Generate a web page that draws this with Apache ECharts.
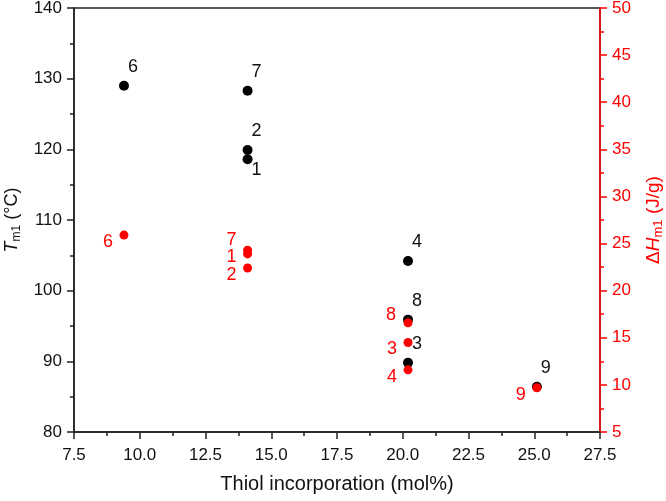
<!DOCTYPE html>
<html>
<head>
<meta charset="utf-8">
<script src="https://cdn.jsdelivr.net/npm/echarts@6/dist/echarts.min.js"></script>
<style>
  html, body { margin: 0; padding: 0; background: #fff; }
  #chart { width: 666px; height: 501px; }
</style>
</head>
<body>
<div id="chart"></div>
<script>
// sample ids, thiol incorporation (mol%), Tm1 (°C), ΔHm1 (J/g)
const samples = ['1', '2', '3', '4', '6', '7', '8', '9']
const thiol = [14.1, 14.1, 20.2, 20.2, 9.4, 14.1, 20.2, 25.1]
const tm1 = [118.6, 119.9, 89.8, 104.2, 129.0, 128.3, 95.9, 86.4]
const dh1 = [23.9, 22.4, 14.5, 11.6, 25.9, 24.3, 16.6, 9.7]

const FONT = '"Liberation Sans", Arial, sans-serif'
const RED = '#ff0000'
const INK = '#111'

// label offsets (px) so numbers sit next to the dots like the original
const blackOffset = (id) => (id === '1' ? [9, 11] : [9, -19])
const redOffset = (id) => {
  if (id === '7') return [-16, -10]
  if (id === '8') return [-17, -8]
  if (id === '1') return [-16, 3]
  return [-16, 7]
}

const chart = echarts.init(document.getElementById('chart'), null, { renderer: 'canvas' })

const tickLabel = { fontFamily: FONT, fontSize: 17, color: INK }

chart.setOption({
  animation: false,
  grid: {
    left: 74, right: 66, top: 8, bottom: 69,
    outerBoundsMode: 'none', containLabel: false,
    show: true, borderColor: '#222', borderWidth: 1.5, backgroundColor: 'transparent',
  },
  xAxis: {
    type: 'value',
    min: 7.5, max: 27.5, interval: 2.5,
    name: 'Thiol incorporation (mol%)',
    nameLocation: 'middle', nameGap: 42,
    nameTextStyle: { fontFamily: FONT, fontSize: 20, color: INK },
    axisLine: { lineStyle: { color: '#222', width: 1.5 } },
    axisTick: { inside: false, length: 7, lineStyle: { color: '#222', width: 1.5 } },
    minorTick: { show: true, splitNumber: 2, length: 4, lineStyle: { color: '#222', width: 1.5 } },
    splitLine: { show: false },
    axisLabel: { ...tickLabel, margin: 15, formatter: (v) => v.toFixed(1) },
  },
  yAxis: [
    {
      type: 'value',
      position: 'left',
      min: 80, max: 140, interval: 10,
      name: '{it|T}{sub|m1} (°C)',
      nameLocation: 'middle', nameGap: 46, nameRotate: 90,
      nameTextStyle: {
        fontFamily: FONT, fontSize: 18, color: INK,
        rich: {
          it: { fontFamily: FONT, fontSize: 18, fontStyle: 'italic', color: INK },
          sub: { fontFamily: FONT, fontSize: 12, color: INK, padding: [9, 0, 0, 0] },
        },
      },
      axisLine: { show: true, lineStyle: { color: '#222', width: 1.5 } },
      axisTick: { inside: false, length: 7, lineStyle: { color: '#222', width: 1.5 } },
      minorTick: { show: true, splitNumber: 2, length: 4, lineStyle: { color: '#222', width: 1.5 } },
      splitLine: { show: false },
      axisLabel: { ...tickLabel, margin: 12 },
    },
    {
      type: 'value',
      position: 'right',
      min: 5, max: 50, interval: 5,
      name: 'Δ{it|H}{sub|m1} (J/g)',
      nameLocation: 'middle', nameGap: 43, nameRotate: 90,
      nameTextStyle: {
        fontFamily: FONT, fontSize: 19, color: RED,
        rich: {
          it: { fontFamily: FONT, fontSize: 19, fontStyle: 'italic', color: RED },
          sub: { fontFamily: FONT, fontSize: 13, color: RED, padding: [9, 0, 0, 0] },
        },
      },
      axisLine: { show: true, lineStyle: { color: RED, width: 1.5 } },
      axisTick: { inside: false, length: 7, lineStyle: { color: RED, width: 1.5 } },
      minorTick: { show: true, splitNumber: 2, length: 4, lineStyle: { color: RED, width: 1.5 } },
      splitLine: { show: false },
      axisLabel: { ...tickLabel, color: RED, margin: 12 },
    },
  ],
  series: [
    {
      name: 'Tm1',
      type: 'scatter',
      yAxisIndex: 0,
      symbolSize: 10,
      itemStyle: { color: '#000', opacity: 1 },
      data: samples.map((id, i) => ({
        value: [thiol[i], tm1[i]],
        label: {
          show: true, formatter: id, position: 'inside', offset: blackOffset(id),
          fontFamily: FONT, fontSize: 18, color: INK,
        },
      })),
    },
    {
      name: 'dHm1',
      type: 'scatter',
      yAxisIndex: 1,
      symbolSize: 9,
      itemStyle: { color: RED, opacity: 1 },
      data: samples.map((id, i) => ({
        value: [thiol[i], dh1[i]],
        label: {
          show: true, formatter: id, position: 'inside', offset: redOffset(id),
          fontFamily: FONT, fontSize: 18, color: RED,
        },
      })),
    },
  ],
})
</script>
</body>
</html>
